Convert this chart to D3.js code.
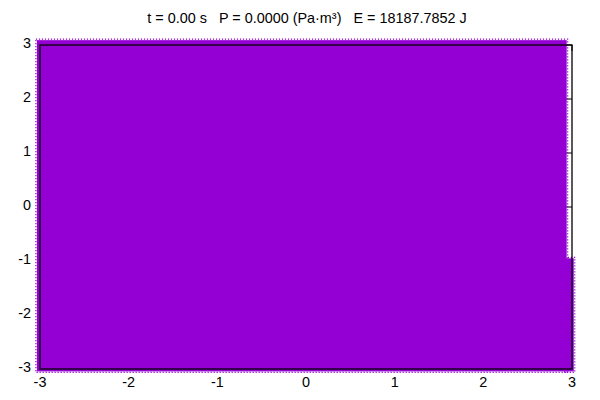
<!DOCTYPE html>
<html>
<head>
<meta charset="utf-8">
<script src="https://cdn.jsdelivr.net/npm/d3@7"></script>
<style>
  html, body { margin: 0; padding: 0; background: #fff; }
  text { font-family: "Liberation Sans", Arial, sans-serif; fill: #000; }
</style>
</head>
<body>
<div id="chart"></div>
<script>
// ---- data ----
const titleText = "t = 0.00 s   P = 0.0000 (Pa\u00b7m\u00b3)   E = 18187.7852 J";
const xTicks = [-3, -2, -1, 0, 1, 2, 3];
const yTicks = [-3, -2, -1, 0, 1, 2, 3];
const xDomain = [-3, 3];
const yDomain = [-3, 3];
// particle-filled regions (extent of the drawn particles, in data units)
const regionX0 = [-3.035, 2.93];
const regionX1 = [2.94, 3.02];
const regionY0 = [-3.045, -3.045];
const regionY1 = [3.09, -0.95];

// ---- layout ----
const W = 600, H = 400;
const m = { left: 40, right: 28, top: 45, bottom: 31 };
const color = "#9400d3";

const svg = d3.select("#chart").append("svg")
  .attr("width", W).attr("height", H);

const x = d3.scaleLinear().domain(xDomain).range([m.left, W - m.right]);
const y = d3.scaleLinear().domain(yDomain).range([H - m.bottom, m.top]);

// title
svg.append("text")
  .attr("x", (x(xDomain[0]) + x(xDomain[1])) / 2 + 1)
  .attr("y", 23)
  .attr("text-anchor", "middle")
  .attr("font-size", 14.4)
  .style("white-space", "pre")
  .attr("xml:space", "preserve")
  .text(titleText);

// ticks (drawn behind the particles), inward on all sides
const tl = 6;
const tickG = svg.append("g").attr("stroke", "#000").attr("stroke-width", 1);
xTicks.forEach(v => {
  tickG.append("line").attr("x1", x(v)).attr("x2", x(v)).attr("y1", y(yDomain[0])).attr("y2", y(yDomain[0]) - tl);
  tickG.append("line").attr("x1", x(v)).attr("x2", x(v)).attr("y1", y(yDomain[1])).attr("y2", y(yDomain[1]) + tl);
});
yTicks.forEach(v => {
  tickG.append("line").attr("y1", y(v)).attr("y2", y(v)).attr("x1", x(xDomain[0])).attr("x2", x(xDomain[0]) + tl);
  tickG.append("line").attr("y1", y(v)).attr("y2", y(v)).attr("x1", x(xDomain[1])).attr("x2", x(xDomain[1]) - tl);
});

// tick labels
svg.append("g").selectAll("text").data(xTicks).join("text")
  .attr("x", d => x(d))
  .attr("y", H - m.bottom + 18)
  .attr("text-anchor", "middle")
  .attr("font-size", 14.4)
  .text(d => d);
svg.append("g").selectAll("text").data(yTicks).join("text")
  .attr("x", m.left - 9)
  .attr("y", d => y(d) + 3)
  .attr("text-anchor", "end")
  .attr("font-size", 14.4)
  .text(d => d);

// particle regions
const regions = regionX0.map((d, i) => ({ x0: d, x1: regionX1[i], y0: regionY0[i], y1: regionY1[i] }));
const pg = svg.append("g");
pg.selectAll("rect.fill").data(regions).join("rect")
  .attr("class", "fill")
  .attr("x", d => x(d.x0))
  .attr("y", d => y(d.y1))
  .attr("width", d => x(d.x1) - x(d.x0))
  .attr("height", d => y(d.y0) - y(d.y1))
  .attr("fill", color);
// dotted particle fringe
pg.selectAll("rect.fringe").data(regions).join("rect")
  .attr("class", "fringe")
  .attr("x", d => x(d.x0) - 1)
  .attr("y", d => y(d.y1) - 1)
  .attr("width", d => x(d.x1) - x(d.x0) + 2)
  .attr("height", d => y(d.y0) - y(d.y1) + 2)
  .attr("fill", "none")
  .attr("stroke", color)
  .attr("stroke-width", 1.2)
  .attr("stroke-dasharray", "1.2,1.8");

// border on top
svg.append("rect")
  .attr("x", x(xDomain[0]))
  .attr("y", y(yDomain[1]))
  .attr("width", x(xDomain[1]) - x(xDomain[0]))
  .attr("height", y(yDomain[0]) - y(yDomain[1]))
  .attr("fill", "none")
  .attr("stroke", "#000")
  .attr("stroke-width", 1.3);
</script>
</body>
</html>
